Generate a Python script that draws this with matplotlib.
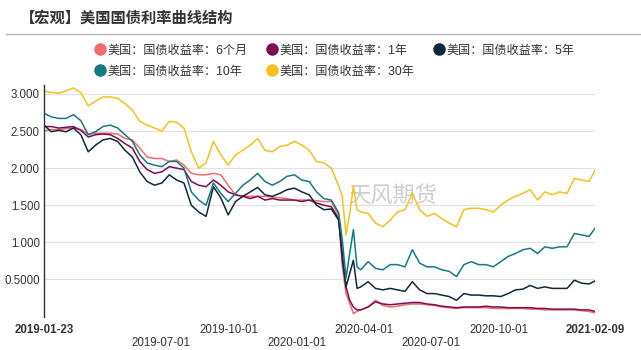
import matplotlib
matplotlib.use('Agg')
import matplotlib.pyplot as plt
from matplotlib.lines import Line2D
import pandas as pd

plt.rcParams['font.family'] = ['Liberation Sans', 'Noto Sans CJK SC', 'DejaVu Sans']

# data (approx. every 10 days)
dates = ['2019-01-23', '2019-02-02', '2019-02-12', '2019-02-22', '2019-03-04', '2019-03-14',
         '2019-03-24', '2019-04-03', '2019-04-13', '2019-04-23', '2019-05-03', '2019-05-13',
         '2019-05-23', '2019-06-02', '2019-06-12', '2019-06-22', '2019-07-02', '2019-07-12',
         '2019-07-22', '2019-08-01', '2019-08-11', '2019-08-21', '2019-08-31', '2019-09-10',
         '2019-09-20', '2019-09-30', '2019-10-10', '2019-10-20', '2019-10-30', '2019-11-09',
         '2019-11-19', '2019-11-29', '2019-12-09', '2019-12-19', '2019-12-29', '2020-01-08',
         '2020-01-18', '2020-01-28', '2020-02-07', '2020-02-17', '2020-02-27', '2020-03-03',
         '2020-03-08', '2020-03-13', '2020-03-18', '2020-03-23', '2020-03-28', '2020-04-07',
         '2020-04-17', '2020-04-27', '2020-05-07', '2020-05-17', '2020-05-27', '2020-06-06',
         '2020-06-16', '2020-06-26', '2020-07-06', '2020-07-16', '2020-07-26', '2020-08-05',
         '2020-08-15', '2020-08-25', '2020-09-04', '2020-09-14', '2020-09-24', '2020-10-04',
         '2020-10-14', '2020-10-24', '2020-11-03', '2020-11-13', '2020-11-23', '2020-12-03',
         '2020-12-13', '2020-12-23', '2021-01-02', '2021-01-12', '2021-01-22', '2021-02-01',
         '2021-02-09']

y_6m = [2.50, 2.52, 2.52, 2.53, 2.54, 2.52, 2.46, 2.47, 2.47, 2.47, 2.46, 2.40,
        2.38, 2.27, 2.15, 2.13, 2.13, 2.09, 2.11, 2.04, 1.93, 1.91, 1.91, 1.93,
        1.91, 1.77, 1.64, 1.62, 1.62, 1.62, 1.62, 1.61, 1.60, 1.59, 1.57, 1.57,
        1.57, 1.56, 1.55, 1.55, 1.36, 0.67, 0.31, 0.18, 0.04, 0.07, 0.09, 0.13,
        0.22, 0.15, 0.13, 0.14, 0.16, 0.17, 0.17, 0.16, 0.15, 0.13, 0.12, 0.11,
        0.12, 0.12, 0.12, 0.12, 0.11, 0.11, 0.11, 0.11, 0.11, 0.10, 0.10, 0.09,
        0.09, 0.09, 0.09, 0.09, 0.08, 0.07, 0.05]

y_1y = [2.56, 2.56, 2.54, 2.55, 2.56, 2.51, 2.42, 2.45, 2.46, 2.45, 2.40, 2.33,
        2.27, 2.09, 1.98, 1.93, 1.95, 2.02, 2.00, 1.98, 1.82, 1.77, 1.75, 1.84,
        1.77, 1.68, 1.64, 1.62, 1.59, 1.62, 1.57, 1.59, 1.57, 1.57, 1.57, 1.55,
        1.57, 1.53, 1.50, 1.48, 1.32, 0.76, 0.40, 0.22, 0.13, 0.09, 0.09, 0.13,
        0.20, 0.17, 0.16, 0.17, 0.18, 0.19, 0.19, 0.17, 0.16, 0.14, 0.13, 0.12,
        0.13, 0.13, 0.13, 0.14, 0.13, 0.13, 0.12, 0.12, 0.12, 0.12, 0.11, 0.11,
        0.10, 0.10, 0.10, 0.10, 0.09, 0.09, 0.07]

y_5y = [2.58, 2.49, 2.51, 2.49, 2.54, 2.45, 2.22, 2.31, 2.38, 2.40, 2.36, 2.24,
        2.15, 1.95, 1.82, 1.77, 1.80, 1.91, 1.84, 1.80, 1.50, 1.41, 1.35, 1.75,
        1.60, 1.37, 1.55, 1.62, 1.68, 1.74, 1.64, 1.62, 1.66, 1.71, 1.73, 1.68,
        1.64, 1.50, 1.44, 1.45, 1.30, 0.85, 0.40, 0.58, 0.76, 0.38, 0.40, 0.47,
        0.38, 0.36, 0.38, 0.36, 0.34, 0.47, 0.36, 0.31, 0.31, 0.29, 0.27, 0.22,
        0.31, 0.29, 0.29, 0.28, 0.28, 0.27, 0.31, 0.36, 0.37, 0.42, 0.38, 0.40,
        0.38, 0.38, 0.38, 0.49, 0.45, 0.44, 0.48]

y_10y = [2.74, 2.69, 2.67, 2.67, 2.72, 2.64, 2.45, 2.49, 2.56, 2.58, 2.54, 2.45,
         2.36, 2.18, 2.07, 2.04, 2.02, 2.09, 2.09, 2.00, 1.68, 1.57, 1.50, 1.80,
         1.66, 1.55, 1.66, 1.77, 1.84, 1.93, 1.82, 1.77, 1.82, 1.89, 1.91, 1.84,
         1.82, 1.68, 1.59, 1.57, 1.40, 1.03, 0.52, 0.85, 1.17, 0.67, 0.63, 0.74,
         0.65, 0.63, 0.70, 0.70, 0.67, 0.90, 0.72, 0.67, 0.67, 0.63, 0.61, 0.54,
         0.70, 0.74, 0.70, 0.70, 0.67, 0.74, 0.81, 0.85, 0.90, 0.92, 0.85, 0.94,
         0.92, 0.94, 0.94, 1.12, 1.10, 1.08, 1.19]

y_30y = [3.04, 3.02, 3.01, 3.04, 3.08, 3.02, 2.84, 2.90, 2.96, 2.96, 2.94, 2.87,
         2.78, 2.63, 2.58, 2.54, 2.50, 2.63, 2.62, 2.54, 2.22, 2.00, 2.07, 2.36,
         2.18, 2.04, 2.18, 2.24, 2.31, 2.40, 2.24, 2.22, 2.29, 2.31, 2.36, 2.31,
         2.24, 2.09, 2.07, 2.00, 1.76, 1.62, 1.10, 1.39, 1.75, 1.44, 1.41, 1.39,
         1.26, 1.21, 1.30, 1.41, 1.44, 1.66, 1.44, 1.35, 1.39, 1.32, 1.26, 1.21,
         1.44, 1.46, 1.46, 1.44, 1.41, 1.50, 1.57, 1.62, 1.66, 1.71, 1.57, 1.68,
         1.64, 1.68, 1.66, 1.86, 1.84, 1.82, 1.97]

labels = ['美国：国债收益率：6个月', '美国：国债收益率：1年', '美国：国债收益率：5年',
          '美国：国债收益率：10年', '美国：国债收益率：30年']
colors = ['#f26b6d', '#7d0c55', '#10293a', '#157a80', '#f5c21b']

tick_dates = ['2019-01-23', '2019-07-01', '2019-10-01', '2020-01-01',
              '2020-04-01', '2020-07-01', '2020-10-01', '2021-02-09']
ytick_vals = [0.5, 1.0, 1.5, 2.0, 2.5, 3.0]
ytick_text = ['0.5000', '1.000', '1.500', '2.000', '2.500', '3.000']

# ----------------------------------------------------------------
x = pd.to_datetime(dates)
series = [y_6m, y_1y, y_5y, y_10y, y_30y]

fig = plt.figure(figsize=(6.41, 3.5), dpi=100)
ax = fig.add_axes([44/641, 1 - 316.6/350, 551/641, 231.6/350])

for ys, c in zip(series, colors):
    ax.plot(x, ys, color=c, lw=1.1)

ax.set_ylim(0, 3.12)
ax.set_xlim(pd.Timestamp(tick_dates[0]), pd.Timestamp(tick_dates[-1]))
ax.set_yticks(ytick_vals)
ax.set_yticklabels(ytick_text, fontsize=8.3, color='#333333')
ax.yaxis.grid(True, color='#e2e2e2', lw=0.8)

td = pd.to_datetime(tick_dates)
ax.set_xticks(td)
ax.set_xticklabels(tick_dates, fontsize=8.3, color='#333333')
ax.set_xticks(td[1:-1], minor=True)
ax.xaxis.grid(True, which='minor', color='#e2e2e2', lw=0.8)
ax.tick_params(axis='both', which='both', length=0)
ax.tick_params(axis='y', pad=3)

# staggered date labels, first and last in bold
for i, t in enumerate(ax.xaxis.get_major_ticks()):
    if i in (1, 3, 5):
        t.set_pad(15)
    else:
        t.set_pad(5)
    if i in (0, len(tick_dates) - 1):
        t.label1.set_fontweight('bold')

for s in ['top', 'right', 'bottom']:
    ax.spines[s].set_visible(False)
ax.spines['left'].set_color('#333333')
ax.spines['left'].set_linewidth(1)
ax.set_axisbelow(True)

# watermark
ax.text(0.632, 0.52, '天风期货', transform=ax.transAxes, fontsize=16,
        color='#a0a0a0', alpha=0.5, ha='center', va='center',
        family=['Noto Sans CJK SC'], zorder=0)

# title and rule
fig.text(20/641, 1 - 18/350, '【宏观】美国国债利率曲线结构', fontsize=11,
         fontweight='bold', color='#333333', va='center',
         family=['Noto Sans CJK SC'])
fig.add_artist(Line2D([6/641, 1], [1 - 34/350, 1 - 34/350], color='#b4b4b4', lw=1))

# legend, ordered so rows read 6M,1Y,5Y / 10Y,30Y
order = [0, 3, 1, 4, 2]
handles = [Line2D([], [], ls='none', marker='o', ms=8, color=colors[i]) for i in order]
fig.legend(handles, [labels[i] for i in order], ncol=3, loc='upper left',
           bbox_to_anchor=(94.5/641, 1 - 44.5/350), frameon=False,
           fontsize=8.7, handlelength=0.9, handletextpad=0.15,
           columnspacing=1.6, labelspacing=0.75, borderpad=0, borderaxespad=0,
           labelcolor='#333333')

fig.savefig('out.png', dpi=100)
